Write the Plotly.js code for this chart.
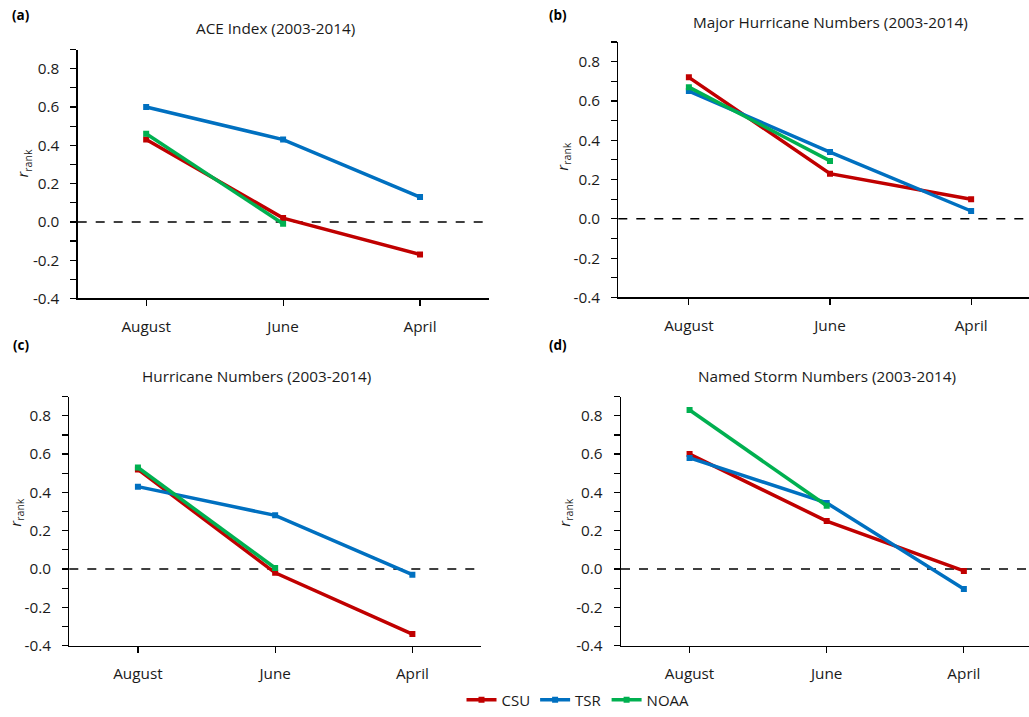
<!DOCTYPE html>
<html>
<head>
<meta charset="utf-8">
<script src="https://cdn.plot.ly/plotly-3.0.1.min.js"></script>
<style>html,body{margin:0;padding:0;background:#fff;}#chart{width:1029px;height:717px;}</style>
</head>
<body>
<div id="chart"></div>
<script>
// ---- Data ----
const months = ['August', 'June', 'April'];
const seriesNames = ['CSU', 'TSR', 'NOAA'];

const aceCSU = [0.43, 0.02, -0.17];
const aceTSR = [0.60, 0.43, 0.13];
const aceNOAA = [0.46, -0.01, null];

const majorCSU = [0.72, 0.23, 0.10];
const majorTSR = [0.65, 0.34, 0.04];
const majorNOAA = [0.67, 0.295, null];

const hurrCSU = [0.52, -0.02, -0.34];
const hurrTSR = [0.43, 0.28, -0.03];
const hurrNOAA = [0.53, 0.005, null];

const stormCSU = [0.60, 0.25, -0.01];
const stormTSR = [0.58, 0.345, -0.105];
const stormNOAA = [0.83, 0.33, null];

const panelTitles = ['ACE Index (2003-2014)', 'Major Hurricane Numbers (2003-2014)', 'Hurricane Numbers (2003-2014)', 'Named Storm Numbers (2003-2014)'];
const panelLabels = ['(a)', '(b)', '(c)', '(d)'];
const yTickVals = [-0.4, -0.2, 0.0, 0.2, 0.4, 0.6, 0.8];
const yTickText = ['-0.4', '-0.2', '0.0', '0.2', '0.4', '0.6', '0.8'];

// ---- Styling ----
const colors = {CSU: '#C00000', TSR: '#0070C0', NOAA: '#00B050'};
const FONT = 'Open Sans, Noto Sans, sans-serif';
const TXT = '#1a1a1a';
const W = 1029, H = 717;

const panels = [
  {data: [aceCSU, aceTSR, aceNOAA], xd: [77.7, 488.5], yd: [50, 301], xr: [-0.5, 2.5]},
  {data: [majorCSU, majorTSR, majorNOAA], xd: [618.3, 1029], yd: [42.3, 300], xr: [-0.5, 2.41]},
  {data: [hurrCSU, hurrTSR, hurrNOAA], xd: [69.3, 481], yd: [400, 651], xr: [-0.5, 2.5]},
  {data: [stormCSU, stormTSR, stormNOAA], xd: [621, 1029], yd: [400, 651], xr: [-0.5, 2.475]}
];
const titlePos = [[275, 28], [830.7, 22], [256.7, 379], [826.7, 379]];
const labelPos = [[21, 15], [558, 15], [21, 348], [558, 348]];
const ytitlePos = [[23, 165], [563, 158], [16, 517], [565, 517]];

const traces = [];
const layout = {
  width: W, height: H,
  margin: {l: 0, r: 0, t: 0, b: 0},
  paper_bgcolor: '#fff', plot_bgcolor: 'rgba(0,0,0,0)',
  font: {family: FONT, size: 15, color: TXT},
  showlegend: true,
  legend: {orientation: 'h', x: 578 / W, xanchor: 'center', y: 1 - 706 / H, yanchor: 'middle',
           font: {family: FONT, size: 15, color: TXT}, itemwidth: 30, tracegroupgap: 0},
  annotations: [],
  shapes: []
};

panels.forEach((p, i) => {
  const n = i === 0 ? '' : String(i + 1);
  const xa = 'x' + n, ya = 'y' + n;
  p.data.forEach((vals, k) => {
    const name = seriesNames[k];
    traces.push({
      type: 'scatter', mode: 'lines+markers',
      x: months, y: vals, name: name,
      xaxis: xa, yaxis: ya,
      showlegend: i === 0,
      legendgroup: name,
      line: {color: colors[name], width: 3.5},
      marker: {symbol: 'square', size: 6, color: colors[name]},
      connectgaps: false
    });
  });
  layout['xaxis' + n] = {
    domain: [p.xd[0] / W, p.xd[1] / W],
    anchor: ya, type: 'category', categoryorder: 'array', categoryarray: months,
    range: p.xr, showgrid: false, zeroline: false,
    showline: true, linecolor: '#000', linewidth: 1.3,
    ticks: 'outside', ticklen: 6, tickcolor: '#000', tickwidth: 1.2,
    ticklabelstandoff: 8,
    tickfont: {family: FONT, size: 15.3, color: TXT}, fixedrange: true
  };
  layout['yaxis' + n] = {
    domain: [1 - p.yd[1] / H, 1 - p.yd[0] / H],
    anchor: xa, range: [-0.4, 0.9],
    tickmode: 'array', tickvals: yTickVals, ticktext: yTickText,
    showgrid: false, zeroline: false,
    showline: true, linecolor: '#000', linewidth: 1.3,
    ticks: 'outside', ticklen: 6, tickcolor: '#000', tickwidth: 1.2,
    minor: {ticks: 'outside', ticklen: 6, tickmode: 'linear', tick0: 0, dtick: 0.1, tickcolor: '#000', tickwidth: 1.2, showgrid: false},
    ticklabelstandoff: 8,
    tickfont: {family: FONT, size: 15.3, color: TXT}, fixedrange: true
  };
  layout.shapes.push({
    type: 'line', xref: xa + ' domain', yref: ya, x0: 0, x1: 1, y0: 0, y1: 0,
    line: {color: '#000', width: 1.5, dash: 'dash'}, layer: 'below'
  });
  layout.annotations.push({
    text: panelTitles[i], xref: 'paper', yref: 'paper',
    x: titlePos[i][0] / W, y: 1 - titlePos[i][1] / H, xanchor: 'center', yanchor: 'middle',
    showarrow: false, font: {family: FONT, size: 15.3, color: TXT}
  });
  layout.annotations.push({
    text: '<b>' + panelLabels[i] + '</b>', xref: 'paper', yref: 'paper',
    x: labelPos[i][0] / W, y: 1 - labelPos[i][1] / H, xanchor: 'center', yanchor: 'middle',
    showarrow: false, font: {family: FONT, size: 13.5, color: '#000'}
  });
  layout.annotations.push({
    text: '<i>r</i><sub>rank</sub>', xref: 'paper', yref: 'paper', textangle: -90,
    x: ytitlePos[i][0] / W, y: 1 - ytitlePos[i][1] / H, xanchor: 'center', yanchor: 'middle',
    showarrow: false, font: {family: FONT, size: 15, color: TXT}
  });
});

Plotly.newPlot('chart', traces, layout, {staticPlot: true, displayModeBar: false});
</script>
</body>
</html>
